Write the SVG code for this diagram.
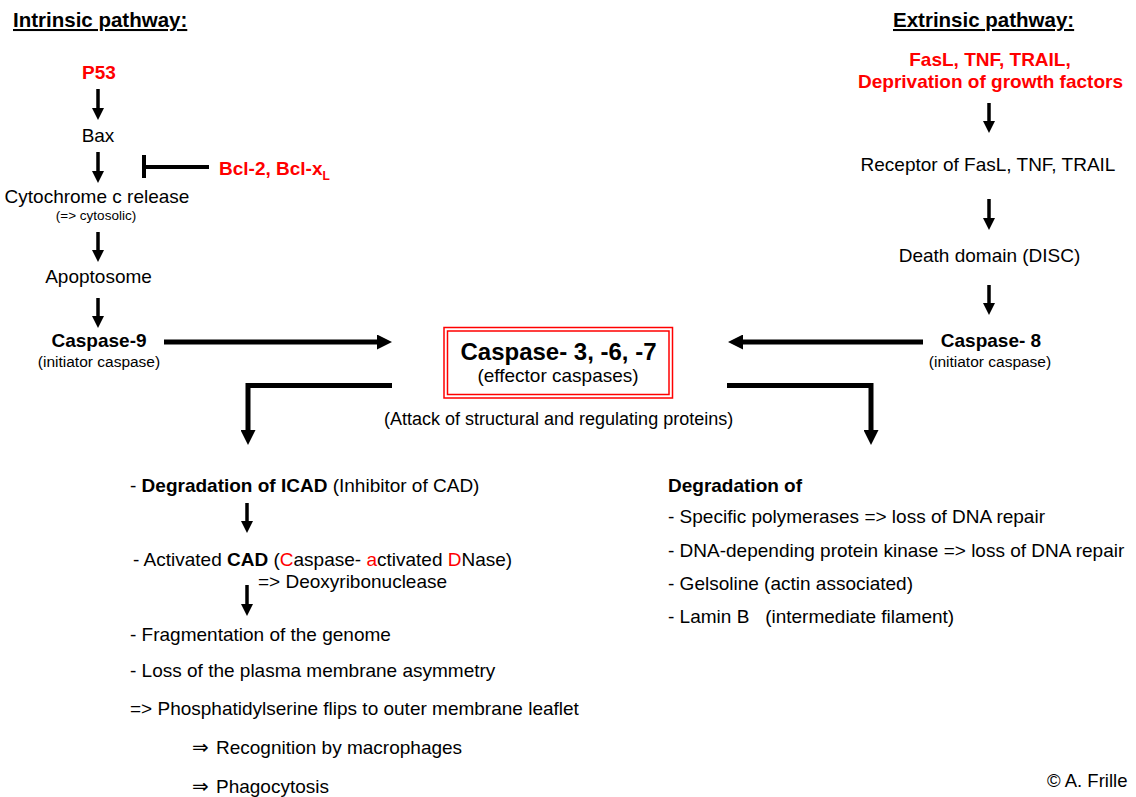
<svg xmlns="http://www.w3.org/2000/svg" width="1136" height="797" viewBox="0 0 1136 797">
  <style>
    text { font-family: "Liberation Sans", Arial, sans-serif; font-size: 19px; fill: #000; }
    .b { font-weight: bold; }
    .red { fill: #ff0000; }
    .mid { text-anchor: middle; }
    .title { font-weight: bold; font-size: 20.5px; text-decoration: underline; }
    .small { font-size: 15.5px; }
    .tiny { font-size: 13.5px; }
    .big { font-size: 24px; }
    .note { font-size: 18px; }
    .pre { white-space: pre; }
    .imp { font-family: "DejaVu Sans", sans-serif; font-size: 20px; }
    .thin { stroke: #000; stroke-width: 3.5; fill: none; }
    .thick { stroke: #000; stroke-width: 5; fill: none; }
  </style>
  <defs>
    <marker id="head" markerUnits="userSpaceOnUse" markerWidth="12" markerHeight="12" refX="0" refY="6" orient="auto">
      <path d="M0,0 L12,6 L0,12 z" fill="#000"/>
    </marker>
    <marker id="bighead" markerUnits="userSpaceOnUse" markerWidth="15" markerHeight="15" refX="0" refY="7.5" orient="auto">
      <path d="M0,0 L15,7.5 L0,15 z" fill="#000"/>
    </marker>
  </defs>
  <rect width="1136" height="797" fill="#fff"/>

  <!-- headings -->
  <g id="intrinsic-title"><text class="title" x="13" y="27">Intrinsic pathway:</text></g>
  <g id="extrinsic-title"><text class="title" x="893" y="27">Extrinsic pathway:</text></g>

  <!-- intrinsic chain -->
  <g id="p53"><text class="b red mid" x="99" y="79">P53</text></g>
  <g id="bax"><text class="mid" x="98" y="142">Bax</text></g>
  <g id="bcl2"><text class="b red" x="219" y="175">Bcl-2, Bcl-x<tspan style="font-size:12px" dy="5">L</tspan></text></g>
  <g id="cytochrome">
    <text class="mid" x="97" y="203">Cytochrome c release</text>
    <text class="tiny mid" x="96" y="220">(=&gt; cytosolic)</text>
  </g>
  <g id="apoptosome"><text class="mid" x="98.5" y="283">Apoptosome</text></g>
  <g id="caspase9">
    <text class="b mid" x="99" y="347">Caspase-9</text>
    <text class="small mid" x="99" y="367">(initiator caspase)</text>
  </g>

  <!-- extrinsic chain -->
  <g id="ligands">
    <text class="b red mid" x="990" y="66">FasL, TNF, TRAIL,</text>
    <text class="b red mid" x="990.5" y="88">Deprivation of growth factors</text>
  </g>
  <g id="receptor"><text class="mid" x="988" y="171">Receptor of FasL, TNF, TRAIL</text></g>
  <g id="disc"><text class="mid" x="989.5" y="262">Death domain (DISC)</text></g>
  <g id="caspase8">
    <text class="b mid" x="991" y="347">Caspase- 8</text>
    <text class="small mid" x="990" y="367">(initiator caspase)</text>
  </g>

  <!-- effector caspases -->
  <g id="effector">
    <rect x="444" y="327.5" width="228.5" height="70.5" fill="none" stroke="#ff0000" stroke-width="1.5"/>
    <rect x="447.5" y="331" width="221.5" height="63.5" fill="none" stroke="#ff0000" stroke-width="1.5"/>
    <text class="b mid big" x="558.5" y="360">Caspase- 3, -6, -7</text>
    <text class="mid" x="558" y="382">(effector caspases)</text>
  </g>
  <g id="attack"><text class="note" x="384" y="425">(Attack of structural and regulating proteins)</text></g>

  <!-- nuclear consequences -->
  <g id="icad"><text x="130" y="492">- <tspan class="b">Degradation of ICAD</tspan> (Inhibitor of CAD)</text></g>
  <g id="cad">
    <text x="133" y="566">- Activated <tspan class="b">CAD</tspan> (<tspan class="red">C</tspan>aspase- <tspan class="red">a</tspan>ctivated <tspan class="red">D</tspan>Nase)</text>
    <text x="258" y="588">=&gt; Deoxyribonuclease</text>
  </g>
  <g id="consequences">
    <text x="130" y="641">- Fragmentation of the genome</text>
    <text x="130" y="677">- Loss of the plasma membrane asymmetry</text>
    <text x="130" y="715">=&gt; Phosphatidylserine flips to outer membrane leaflet</text>
    <text class="imp" x="192" y="754">⇒</text>
    <text x="216" y="754">Recognition by macrophages</text>
    <text class="imp" x="192" y="793">⇒</text>
    <text x="216" y="793">Phagocytosis</text>
  </g>

  <!-- protein degradation -->
  <g id="degradation">
    <text class="b" x="668" y="492">Degradation of</text>
    <text x="668" y="523">- Specific polymerases =&gt; loss of DNA repair</text>
    <text x="668" y="557">- DNA-depending protein kinase =&gt; loss of DNA repair</text>
    <text x="668" y="590">- Gelsoline (actin associated)</text>
    <text class="pre" x="668" y="623">- Lamin B   (intermediate filament)</text>
  </g>

  <g id="copyright"><text x="1047" y="787" style="font-size:18.5px">© A. Frille</text></g>

  <!-- connectors -->
  <g id="connectors">
    <line class="thin" x1="98" y1="89" x2="98" y2="108" marker-end="url(#head)"/>
    <line class="thin" x1="98" y1="152" x2="98" y2="171" marker-end="url(#head)"/>
    <line class="thin" x1="98" y1="232" x2="98" y2="250" marker-end="url(#head)"/>
    <line class="thin" x1="98" y1="298" x2="98" y2="316" marker-end="url(#head)"/>
    <!-- inhibition bar -->
    <line stroke="#000" stroke-width="4" x1="144" y1="155" x2="144" y2="178"/>
    <line stroke="#000" stroke-width="4" x1="144" y1="167" x2="209" y2="167"/>

    <line class="thin" x1="989" y1="103" x2="989" y2="121" marker-end="url(#head)"/>
    <line class="thin" x1="989" y1="199" x2="989" y2="218" marker-end="url(#head)"/>
    <line class="thin" x1="989" y1="285" x2="989" y2="303" marker-end="url(#head)"/>

    <line class="thick" x1="164" y1="342" x2="377" y2="342" marker-end="url(#bighead)"/>
    <line class="thick" x1="923" y1="342" x2="743" y2="342" marker-end="url(#bighead)"/>
    <polyline class="thick" points="392,385.5 248,385.5 248,430" marker-end="url(#bighead)"/>
    <polyline class="thick" points="727,385.5 871,385.5 871,430" marker-end="url(#bighead)"/>

    <line class="thin" x1="247" y1="503" x2="247" y2="521" marker-end="url(#head)"/>
    <line class="thin" x1="247" y1="585" x2="247" y2="604" marker-end="url(#head)"/>
  </g>
</svg>
